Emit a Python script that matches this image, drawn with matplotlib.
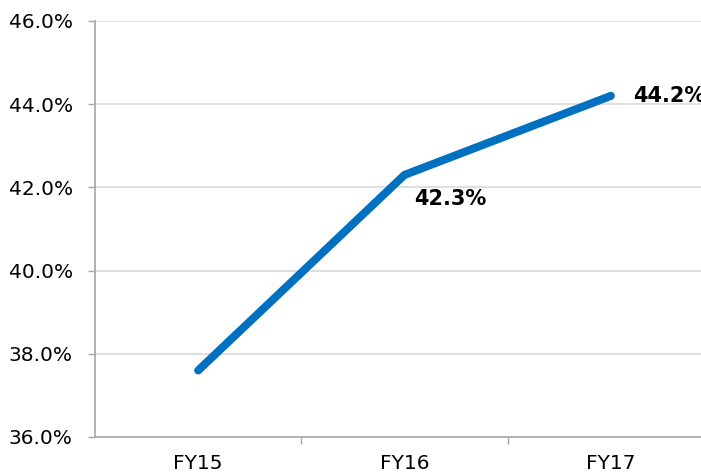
import matplotlib
matplotlib.use("Agg")
import matplotlib.pyplot as plt
from matplotlib.ticker import FuncFormatter

years = ["FY15", "FY16", "FY17"]
margin = [37.6, 42.3, 44.2]

y_ticks = [36, 38, 40, 42, 44, 46]

fig = plt.figure(figsize=(7.01, 4.75), dpi=100)
# plot area runs slightly past the right edge of the figure
ax = fig.add_axes([95 / 701, 1 - 437 / 475, 619 / 701, 416 / 475])

x = list(range(len(years)))
ax.plot(x, margin, color="#0070C0", lw=5.8, solid_capstyle="round",
        solid_joinstyle="miter", zorder=3)

ax.set_xlim(-0.5, len(years) - 0.5)
ax.set_ylim(36, 46)
ax.set_yticks(y_ticks)
ax.yaxis.set_major_formatter(FuncFormatter(lambda v, p: f"{v:.1f}%"))
ax.grid(axis="y", color="#D9D9D9", lw=1.2, zorder=0)

# category ticks sit on the boundaries between years
ax.set_xticks([i + 0.5 for i in x[:-1]], minor=False)
ax.set_xticklabels([])
ax.set_xticks(x, minor=True)
ax.set_xticklabels(years, minor=True)
ax.tick_params(axis="x", which="major", length=5, width=1, color="#A6A6A6", direction="out")
ax.tick_params(axis="x", which="minor", length=0, pad=12, labelsize=14.5)
ax.tick_params(axis="y", length=5, width=1, color="#A6A6A6", pad=11, labelsize=14.5)

for side in ("top", "right"):
    ax.spines[side].set_visible(False)
for side in ("left", "bottom"):
    ax.spines[side].set_color("#A6A6A6")
    ax.spines[side].set_linewidth(1.2)

# value labels
ax.annotate(f"{margin[1]:.1f}%", (x[1], margin[1]), xytext=(7, -17),
            textcoords="offset points", ha="left", va="center",
            fontsize=15, fontweight="bold", annotation_clip=False)
ax.annotate(f"{margin[2]:.1f}%", (x[2], margin[2]), xytext=(16, 0),
            textcoords="offset points", ha="left", va="center",
            fontsize=15, fontweight="bold", annotation_clip=False)

fig.savefig("out.png", dpi=100)
